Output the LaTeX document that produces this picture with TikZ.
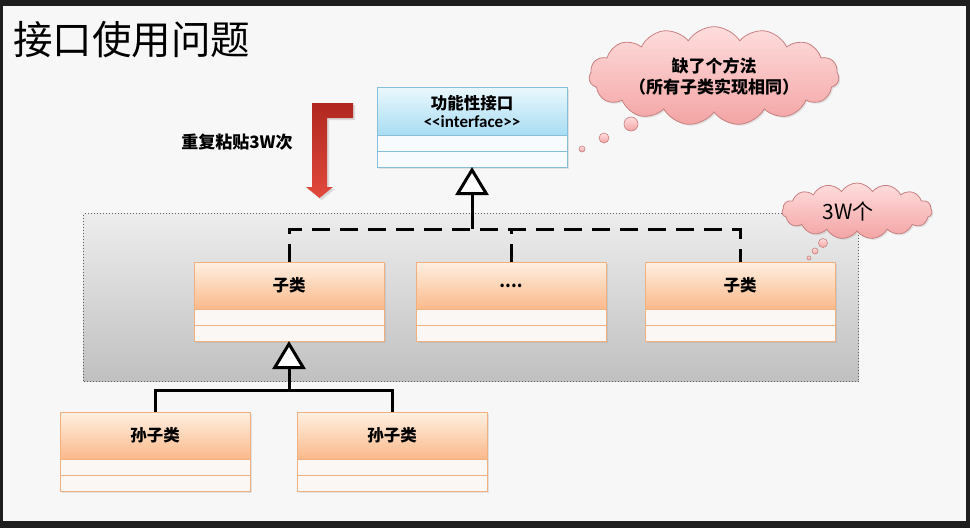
\documentclass[tikz,border=0pt]{standalone}
\usepackage{fontspec}
\setmainfont{Noto Sans CJK SC}
\newfontfamily\latinf{Carlito}
\usetikzlibrary{shapes.symbols,shadows,arrows.meta,calc}
\definecolor{framec}{HTML}{1E1E1E}
\definecolor{bgc}{HTML}{F7F7F7}
\definecolor{orTop}{HTML}{FFF0E2}
\definecolor{orBot}{HTML}{FAB98A}
\definecolor{orLine}{HTML}{F0B080}
\definecolor{compFill}{HTML}{FBF7F5}
\definecolor{blTop}{HTML}{EAF8FD}
\definecolor{blBot}{HTML}{A8DDF3}
\definecolor{blLine}{HTML}{86BFDB}
\definecolor{blComp}{HTML}{F8FBFD}
\definecolor{grTop}{HTML}{EDEDED}
\definecolor{grBot}{HTML}{C0C0C0}
\definecolor{pkTop}{HTML}{FFDDDD}
\definecolor{pkBot}{HTML}{F3A4A4}
\definecolor{pkLine}{HTML}{C98080}
\definecolor{rdTop}{HTML}{B0271F}
\definecolor{rdBot}{HTML}{E2493C}
\newcommand\umlcls[4]{%
  \node[#4, anchor=north west] (#1) at #2 {#3};
  \node[comp, anchor=north] (#1a) at (#1.south) {};
  \node[comp, anchor=north] (#1b) at (#1a.south) {};
}
\begin{document}
\begin{tikzpicture}[x=1pt,y=-1pt,
  shad/.style={drop shadow={opacity=0.18, shadow xshift=1.5pt, shadow yshift=-1.5pt}},
  hdr/.style={rectangle, inner sep=0pt, outer sep=0pt, minimum width=190pt, minimum height=47pt,
    draw=orLine, line width=1pt, top color=orTop, bottom color=orBot, shad,
    font=\bfseries\fontsize{16.5}{18}\selectfont},
  ihdr/.style={hdr, minimum height=48pt, draw=blLine, top color=blTop, bottom color=blBot, align=center},
  comp/.style={rectangle, inner sep=0pt, outer sep=0pt, minimum width=190pt, minimum height=16pt,
    draw=orLine, line width=1pt, fill=compFill, shad},
  icomp/.style={comp, draw=blLine, fill=blComp},
  cloudn/.style={cloud, cloud puffs=15, cloud puff arc=115, draw=pkLine, line width=0.8pt,
    top color=pkTop, bottom color=pkBot, inner sep=0pt, shad},
  bub/.style={circle, draw=pkLine, line width=0.6pt, top color=pkTop, bottom color=pkBot, inner sep=0pt},
  sol/.style={line width=3pt, black},
  dsh/.style={line width=3pt, black, dash pattern=on 18pt off 10pt},
  inh/.style={line width=3pt, black, -{Triangle[length=28pt, width=33pt, fill=white]}}
]
\useasboundingbox (0,0) rectangle (970,528);
\fill[framec] (0,0) rectangle (970,528);
\fill[bgc] (3,6) rectangle (966,521);

% title
\node[anchor=west, inner sep=0pt, font=\fontsize{39.5}{41}\selectfont] (title) at (13,40) {接口使用问题};

% group box
\node[rectangle, anchor=north west, minimum width=775pt, minimum height=168pt, inner sep=0pt,
  draw=gray!75!black, dotted, line width=1pt, top color=grTop, bottom color=grBot] (grp) at (83,213) {};

% interface
\node[ihdr, anchor=north west] (ifc) at (377,87) {功能性接口\\[0pt]{\latinf\bfseries\fontsize{17}{18}\selectfont <\kern0pt<interface>\kern0pt>}};
\node[icomp, anchor=north] (ifca) at (ifc.south) {};
\node[icomp, anchor=north] (ifcb) at (ifca.south) {};

% red arrow
\path[top color=rdTop, bottom color=rdBot, drop shadow={opacity=0.25, shadow xshift=2pt, shadow yshift=-2pt}]
  (312,103) -- (353,103) -- (353,118) -- (327,118) -- (327,187) -- (333,187)
  -- (319.5,198) -- (306,187) -- (312,187) -- cycle;
\node[font=\bfseries\fontsize{17}{19}\selectfont] (rep) at (237,142) {重复粘贴3W次};

% children
\umlcls{s1}{(194,262)}{子类}{hdr}
\umlcls{s2}{(416,262)}{....}{hdr}
\umlcls{s3}{(645,262)}{子类}{hdr}

% grandchildren
\umlcls{g1}{(60,412)}{孙子类}{hdr}
\umlcls{g2}{(297,412)}{孙子类}{hdr}

% clouds
\node[cloudn, aspect=3.3, minimum width=250pt, minimum height=76pt, align=center,
  font=\bfseries\fontsize{17}{21}\selectfont] (cl1) at (714,76) {缺了个方法\\（所有子类实现相同）};
\node[bub, minimum size=14pt] (b11) at (631,124) {};
\node[bub, minimum size=10pt] (b12) at (604,138) {};
\node[bub, minimum size=6pt] (b13) at (582,149) {};

\node[cloudn, aspect=2.6, minimum width=150pt, minimum height=56pt,
  font=\fontsize{21}{24}\selectfont] (cl2) at (857,211) {\hspace*{-18pt}3W个};
\node[bub, minimum size=9pt] (b21) at (823,243) {};
\node[bub, minimum size=6pt] (b22) at (815,251) {};
\node[bub, minimum size=4pt] (b23) at (809,258) {};

% connectors
\path (ifcb.south) ++(0,62) coordinate (j);
\draw[dsh] (s1.north) -- (s1.north |- j) -- (s3.north |- j) -- (s3.north);
\draw[dsh] (s2.north) -- (s2.north |- j);
\draw[inh] (j) -- (ifcb.south);

\path (s1b.south) ++(0,49) coordinate (k);
\draw[sol, line join=miter] (g1.north) -- (g1.north |- k) -- (g2.north |- k) -- (g2.north);
\draw[inh] (k) -- (s1b.south);
\end{tikzpicture}
\end{document}
